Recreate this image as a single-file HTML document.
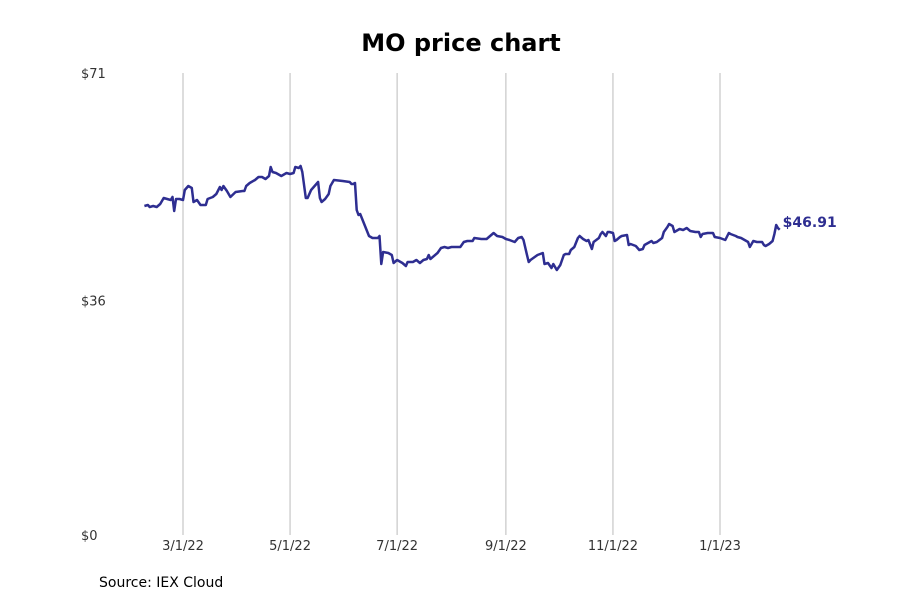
<!DOCTYPE html>
<html><head><meta charset="utf-8"><style>
body{margin:0;background:#fff;}
svg text{font-family:"DejaVu Sans","Liberation Sans",sans-serif;}
</style></head><body>
<svg id="chart" width="900" height="600" viewBox="0 0 900 600">
<text x="461" y="51" text-anchor="middle" font-size="24" font-weight="bold" fill="#000">MO price chart</text>
<g id="grid"></g><g id="yticks"></g><g id="xticks"></g><g id="series"></g>
<text x="99" y="587" font-size="14" fill="#000">Source: IEX Cloud</text>
</svg>
<script>
// days since 2022-03-01
const days=[-22,-20,-19,-17,-15,-13,-11,-9,-7,-6,-5,-4,-2,0,1,3,5,6,8,10,13,14,17,19,21,22,23,25,27,30,34,35,36,38,41,43,45,47,49,50,51,53,56,59,61,63,64,66,67,68,70,71,73,75,77,78,79,81,83,84,86,91,95,96,97,98,99,100,101,103,106,108,111,112,113,114,117,119,120,122,125,127,128,131,133,135,137,139,140,141,145,147,149,151,153,156,158,160,162,165,166,170,173,175,177,179,182,184,186,189,191,193,194,196,197,198,202,205,206,208,210,211,213,215,217,218,220,221,223,225,226,228,230,231,233,234,237,238,239,241,242,243,245,246,247,249,250,253,254,255,258,260,262,263,267,268,270,273,274,276,277,279,280,282,283,285,287,289,292,294,295,296,299,302,303,306,309,311,312,315,316,318,320,322,323,325,327,330,331,332,334,336,337,338,339,340];
const prices=[50.56,50.71,50.41,50.56,50.41,50.87,51.79,51.64,51.48,51.94,49.79,51.64,51.64,51.48,53.02,53.63,53.33,51.18,51.48,50.71,50.71,51.64,51.94,52.40,53.48,53.02,53.63,52.87,51.94,52.71,52.87,52.87,53.63,54.10,54.56,55.02,55.02,54.71,55.17,56.55,55.79,55.63,55.17,55.63,55.48,55.63,56.55,56.40,56.71,55.79,51.79,51.79,53.02,53.63,54.25,51.79,51.18,51.64,52.40,53.63,54.56,54.40,54.25,53.94,53.94,54.10,49.95,49.18,49.33,47.95,45.95,45.64,45.64,45.95,41.65,43.49,43.34,43.03,41.80,42.26,41.80,41.34,41.95,41.95,42.26,41.80,42.26,42.42,43.03,42.42,43.34,44.11,44.26,44.11,44.26,44.26,44.26,45.03,45.18,45.18,45.64,45.49,45.49,45.95,46.41,45.95,45.80,45.49,45.34,45.03,45.64,45.80,45.34,43.03,41.95,42.26,43.03,43.34,41.65,41.80,41.03,41.65,40.73,41.49,43.03,43.18,43.18,43.80,44.26,45.64,45.95,45.49,45.18,45.34,43.95,45.03,45.64,46.26,46.56,45.95,46.56,46.56,46.41,45.18,45.34,45.80,45.95,46.10,44.57,44.72,44.41,43.80,43.95,44.57,45.18,44.87,45.03,45.64,46.56,47.33,47.79,47.49,46.56,46.87,47.03,46.87,47.18,46.72,46.56,46.56,45.80,46.26,46.41,46.41,45.80,45.64,45.34,46.41,46.26,45.95,45.80,45.64,45.34,45.03,44.26,45.18,45.03,45.03,44.57,44.41,44.72,45.18,46.26,47.64,47.18,46.91];
const xTickDays=[0,61,122,184,245,306];
const xTickLabels=["3/1/22","5/1/22","7/1/22","9/1/22","11/1/22","1/1/23"];
const yTickValues=[0,36,71];
const yTickLabels=["$0","$36","$71"];
const lastLabel="$46.91";

const NS="http://www.w3.org/2000/svg";
const x=d=>183+d*(537/306);
const y=p=>535-p*(462/71);
function mk(tag,attrs,parent){const e=document.createElementNS(NS,tag);for(const k in attrs)e.setAttribute(k,attrs[k]);parent.appendChild(e);return e;}
const grid=document.getElementById('grid'),xt=document.getElementById('xticks'),yt=document.getElementById('yticks'),ser=document.getElementById('series');
xTickDays.forEach((d,i)=>{
  const l=mk('line',{x1:x(d),x2:x(d),y1:73,y2:535,stroke:'#bbbbbb','stroke-width':1},grid);
  
  
  const t=mk('text',{x:x(d),y:550,'text-anchor':'middle','font-size':13,fill:'#333'},xt);
  t.textContent=xTickLabels[i];
  
  
});
yTickValues.forEach((v,i)=>{
  const t=mk('text',{x:81,y:y(v)+5,'font-size':13,fill:'#333'},yt);
  t.textContent=yTickLabels[i];
  
  
});
const pts=days.map((d,i)=>x(d).toFixed(1)+','+y(prices[i]).toFixed(1)).join(' ');
const pl=mk('polyline',{points:pts,fill:'none',stroke:'#2e2e91','stroke-width':2.5,'stroke-linejoin':'round'},ser);


const n=days.length-1;
const lt=mk('text',{x:x(days[n])+3,y:y(prices[n])-3,'font-size':14,'font-weight':'bold',fill:'#2e2e91'},ser);
lt.textContent=lastLabel;


</script>
</body></html>
